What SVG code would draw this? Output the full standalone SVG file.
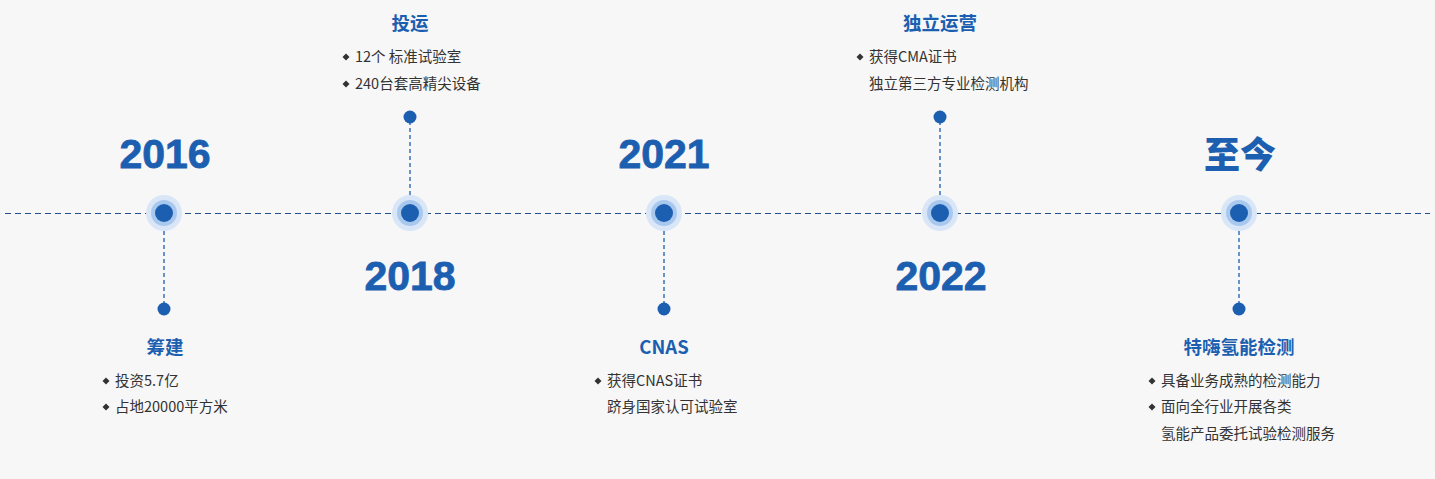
<svg xmlns="http://www.w3.org/2000/svg" width="1435" height="479" viewBox="0 0 1435 479">
<style>
.year{font-family:"Liberation Sans",Arial,sans-serif;font-weight:bold;font-size:41px;fill:#1c5fb0;stroke:#1c5fb0;stroke-width:0.8;text-anchor:middle}
.yearcn{font-family:"Noto Sans CJK SC",sans-serif;font-weight:900;font-size:36px;fill:#1c5fb0;text-anchor:middle}
.title{font-family:"Noto Sans CJK SC",sans-serif;font-weight:bold;font-size:18.5px;fill:#1c5fb0;text-anchor:middle}
.item{font-family:"Noto Sans CJK SC",sans-serif;font-size:14.5px;fill:#333}
.stem{stroke:#1c5fb0;stroke-width:1.3;stroke-dasharray:4 3;fill:none}
.axis{stroke:#1f4f8f;stroke-width:1.2;stroke-dasharray:6 4;fill:none}
.halo{fill:#d9e6f7}
.ring{fill:#a9c8ee}
.core{fill:#1c5fb0}
.dot{fill:#1c5fb0}
.dia{fill:#333}
</style>
<defs>
<g id="node"><circle r="18" class="halo"/><circle r="13" class="ring"/><circle r="9" class="core"/></g>
<path id="dm" d="M0,-3.5 L3.5,0 L0,3.5 L-3.5,0 Z" class="dia"/>
</defs>
<rect width="1435" height="479" fill="#f7f7f7"/>
<g id="connectors">
<line class="axis" x1="5" y1="213.5" x2="1430" y2="213.5"/>
<line class="stem" x1="164" y1="231" x2="164" y2="305"/>
<line class="stem" x1="410" y1="195" x2="410" y2="121"/>
<line class="stem" x1="664" y1="231" x2="664" y2="305"/>
<line class="stem" x1="940" y1="195" x2="940" y2="121"/>
<line class="stem" x1="1239" y1="231" x2="1239" y2="305"/>
</g>
<g id="n2016">
<use href="#node" x="164" y="213"/>
<circle class="dot" cx="164" cy="309" r="6.5"/>
<text class="year" x="165" y="168">2016</text>
<text class="title" x="165" y="354">筹建</text>
<use href="#dm" x="106" y="381"/>
<text class="item" x="115" y="386">投资5.7亿</text>
<use href="#dm" x="106" y="407"/>
<text class="item" x="115" y="412">占地20000平方米</text>
</g>
<g id="n2018">
<use href="#node" x="410" y="213"/>
<circle class="dot" cx="410" cy="117" r="6.5"/>
<text class="year" x="410" y="290">2018</text>
<text class="title" x="410" y="30">投运</text>
<use href="#dm" x="346" y="57"/>
<text class="item" x="355" y="62">12个 标准试验室</text>
<use href="#dm" x="346" y="84"/>
<text class="item" x="355" y="89">240台套高精尖设备</text>
</g>
<g id="n2021">
<use href="#node" x="664" y="213"/>
<circle class="dot" cx="664" cy="309" r="6.5"/>
<text class="year" x="664" y="168">2021</text>
<text class="title" x="664" y="354">CNAS</text>
<use href="#dm" x="598" y="381"/>
<text class="item" x="607" y="386">获得CNAS证书</text>
<text class="item" x="607" y="412">跻身国家认可试验室</text>
</g>
<g id="n2022">
<use href="#node" x="940" y="213"/>
<circle class="dot" cx="940" cy="117" r="6.5"/>
<text class="year" x="941" y="290">2022</text>
<text class="title" x="940" y="30">独立运营</text>
<use href="#dm" x="860" y="57"/>
<text class="item" x="869" y="62">获得CMA证书</text>
<text class="item" x="869" y="89">独立第三方专业检测机构</text>
</g>
<g id="nnow">
<use href="#node" x="1239" y="213"/>
<circle class="dot" cx="1239" cy="309" r="6.5"/>
<text class="yearcn" x="1240" y="168">至今</text>
<text class="title" x="1239" y="354">特嗨氢能检测</text>
<use href="#dm" x="1152" y="381"/>
<text class="item" x="1161" y="386">具备业务成熟的检测能力</text>
<use href="#dm" x="1152" y="407"/>
<text class="item" x="1161" y="412">面向全行业开展各类</text>
<text class="item" x="1161" y="439">氢能产品委托试验检测服务</text>
</g>
</svg>
